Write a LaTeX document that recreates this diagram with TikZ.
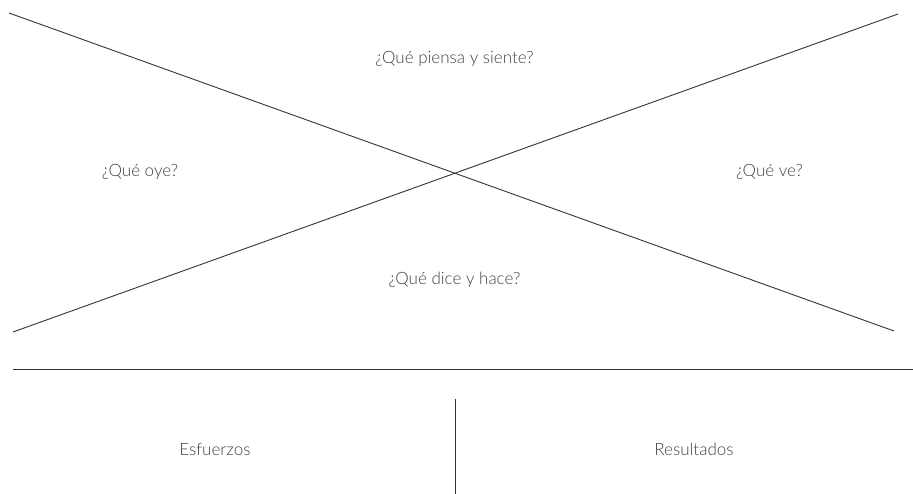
\documentclass[tikz,border=0pt]{standalone}
\usepackage{fontspec}
\setmainfont{Lato Light}
\begin{document}
\begin{tikzpicture}[x=1pt,y=-1pt,
  lbl/.style={text=black!75, font=\fontsize{17}{20}\selectfont, inner sep=0pt},
  ln/.style={draw=black!80, line width=0.9pt}]
\useasboundingbox (0,0) rectangle (913,494);
\coordinate (tl) at (9,13);
\coordinate (br) at (894,331);
\coordinate (bl) at (13,332);
\coordinate (tr) at (898,14);
\coordinate (hl) at (13,369);
\coordinate (hr) at (913,369);
\coordinate (vt) at (455,399);
\coordinate (vb) at (455,494);
\draw[ln] (tl) -- (br);
\draw[ln] (bl) -- (tr);
\draw[ln] (hl) -- (hr);
\draw[ln] (vt) -- (vb);
\node[lbl] (piensa) at (454.5,59) {¿Qué piensa y siente?};
\node[lbl] (oye) at (140,172) {¿Qué oye?};
\node[lbl] (ve) at (769.5,172) {¿Qué ve?};
\node[lbl] (dice) at (454.5,280) {¿Qué dice y hace?};
\node[lbl] (esf) at (215,449) {Esfuerzos};
\node[lbl] (res) at (694,449) {Resultados};
\end{tikzpicture}
\end{document}
